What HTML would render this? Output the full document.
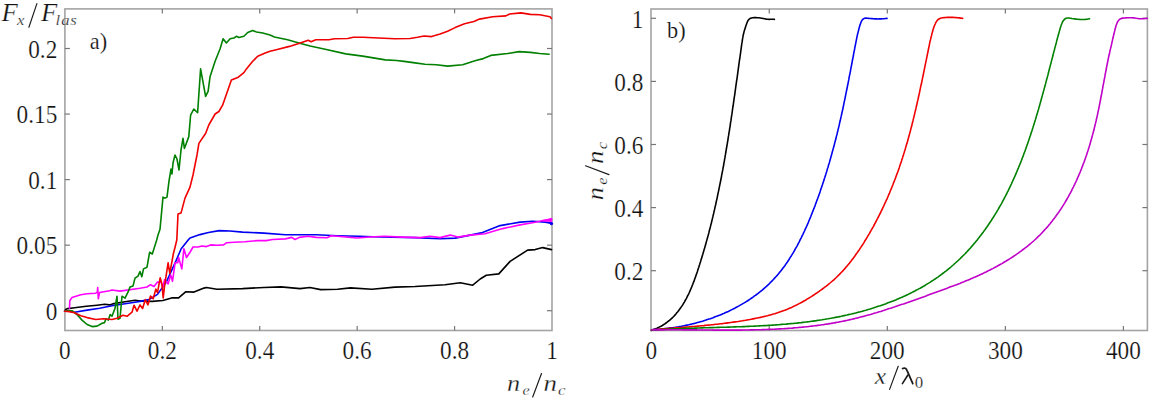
<!DOCTYPE html>
<html><head><meta charset="utf-8"><style>
html,body{margin:0;padding:0;background:#fff;width:1152px;height:399px;overflow:hidden}
svg{display:block}
</style></head><body>
<svg width="1152" height="399" viewBox="0 0 1152 399">
<rect width="1152" height="399" fill="#fff"/>
<rect x="64.9" y="8.9" width="487.1" height="321.6" fill="none" stroke="#a4a4a4" stroke-width="1.6"/><line x1="162.32000000000002" y1="330.5" x2="162.32000000000002" y2="326.0" stroke="#777" stroke-width="1.2"/><line x1="162.32000000000002" y1="8.9" x2="162.32000000000002" y2="13.4" stroke="#777" stroke-width="1.2"/><line x1="259.74" y1="330.5" x2="259.74" y2="326.0" stroke="#777" stroke-width="1.2"/><line x1="259.74" y1="8.9" x2="259.74" y2="13.4" stroke="#777" stroke-width="1.2"/><line x1="357.15999999999997" y1="330.5" x2="357.15999999999997" y2="326.0" stroke="#777" stroke-width="1.2"/><line x1="357.15999999999997" y1="8.9" x2="357.15999999999997" y2="13.4" stroke="#777" stroke-width="1.2"/><line x1="454.58000000000004" y1="330.5" x2="454.58000000000004" y2="326.0" stroke="#777" stroke-width="1.2"/><line x1="454.58000000000004" y1="8.9" x2="454.58000000000004" y2="13.4" stroke="#777" stroke-width="1.2"/><line x1="64.9" y1="310.7" x2="69.9" y2="310.7" stroke="#777" stroke-width="1.2"/><line x1="552.0" y1="310.7" x2="547.0" y2="310.7" stroke="#777" stroke-width="1.2"/><line x1="64.9" y1="245.14999999999998" x2="69.9" y2="245.14999999999998" stroke="#777" stroke-width="1.2"/><line x1="552.0" y1="245.14999999999998" x2="547.0" y2="245.14999999999998" stroke="#777" stroke-width="1.2"/><line x1="64.9" y1="179.6" x2="69.9" y2="179.6" stroke="#777" stroke-width="1.2"/><line x1="552.0" y1="179.6" x2="547.0" y2="179.6" stroke="#777" stroke-width="1.2"/><line x1="64.9" y1="114.04999999999998" x2="69.9" y2="114.04999999999998" stroke="#777" stroke-width="1.2"/><line x1="552.0" y1="114.04999999999998" x2="547.0" y2="114.04999999999998" stroke="#777" stroke-width="1.2"/><line x1="64.9" y1="48.5" x2="69.9" y2="48.5" stroke="#777" stroke-width="1.2"/><line x1="552.0" y1="48.5" x2="547.0" y2="48.5" stroke="#777" stroke-width="1.2"/>
<rect x="651.0" y="9.0" width="496.4000000000001" height="321.5" fill="none" stroke="#a4a4a4" stroke-width="1.6"/><line x1="769.25" y1="330.5" x2="769.25" y2="326.0" stroke="#777" stroke-width="1.2"/><line x1="769.25" y1="9.0" x2="769.25" y2="13.5" stroke="#777" stroke-width="1.2"/><line x1="887.3000000000001" y1="330.5" x2="887.3000000000001" y2="326.0" stroke="#777" stroke-width="1.2"/><line x1="887.3000000000001" y1="9.0" x2="887.3000000000001" y2="13.5" stroke="#777" stroke-width="1.2"/><line x1="1005.3500000000001" y1="330.5" x2="1005.3500000000001" y2="326.0" stroke="#777" stroke-width="1.2"/><line x1="1005.3500000000001" y1="9.0" x2="1005.3500000000001" y2="13.5" stroke="#777" stroke-width="1.2"/><line x1="1123.4" y1="330.5" x2="1123.4" y2="326.0" stroke="#777" stroke-width="1.2"/><line x1="1123.4" y1="9.0" x2="1123.4" y2="13.5" stroke="#777" stroke-width="1.2"/><line x1="651.0" y1="270.7" x2="656.0" y2="270.7" stroke="#777" stroke-width="1.2"/><line x1="1147.4" y1="270.7" x2="1142.4" y2="270.7" stroke="#777" stroke-width="1.2"/><line x1="651.0" y1="207.60000000000002" x2="656.0" y2="207.60000000000002" stroke="#777" stroke-width="1.2"/><line x1="1147.4" y1="207.60000000000002" x2="1142.4" y2="207.60000000000002" stroke="#777" stroke-width="1.2"/><line x1="651.0" y1="144.50000000000003" x2="656.0" y2="144.50000000000003" stroke="#777" stroke-width="1.2"/><line x1="1147.4" y1="144.50000000000003" x2="1142.4" y2="144.50000000000003" stroke="#777" stroke-width="1.2"/><line x1="651.0" y1="81.4" x2="656.0" y2="81.4" stroke="#777" stroke-width="1.2"/><line x1="1147.4" y1="81.4" x2="1142.4" y2="81.4" stroke="#777" stroke-width="1.2"/><line x1="651.0" y1="18.30000000000001" x2="656.0" y2="18.30000000000001" stroke="#777" stroke-width="1.2"/><line x1="1147.4" y1="18.30000000000001" x2="1142.4" y2="18.30000000000001" stroke="#777" stroke-width="1.2"/>
<text transform="translate(57.30,320.00) scale(0.92,1)" font-size="25.3" text-anchor="end" font-family="Liberation Serif" fill="#111" stroke="#fff" stroke-width="0.2">0</text>
<text transform="translate(57.30,254.45) scale(0.92,1)" font-size="25.3" text-anchor="end" font-family="Liberation Serif" fill="#111" stroke="#fff" stroke-width="0.2">0.05</text>
<text transform="translate(57.30,188.90) scale(0.92,1)" font-size="25.3" text-anchor="end" font-family="Liberation Serif" fill="#111" stroke="#fff" stroke-width="0.2">0.1</text>
<text transform="translate(57.30,123.35) scale(0.92,1)" font-size="25.3" text-anchor="end" font-family="Liberation Serif" fill="#111" stroke="#fff" stroke-width="0.2">0.15</text>
<text transform="translate(57.30,57.80) scale(0.92,1)" font-size="25.3" text-anchor="end" font-family="Liberation Serif" fill="#111" stroke="#fff" stroke-width="0.2">0.2</text>
<text transform="translate(64.90,358.60) scale(0.92,1)" font-size="25.3" text-anchor="middle" font-family="Liberation Serif" fill="#111" stroke="#fff" stroke-width="0.2">0</text>
<text transform="translate(162.32,358.60) scale(0.92,1)" font-size="25.3" text-anchor="middle" font-family="Liberation Serif" fill="#111" stroke="#fff" stroke-width="0.2">0.2</text>
<text transform="translate(259.74,358.60) scale(0.92,1)" font-size="25.3" text-anchor="middle" font-family="Liberation Serif" fill="#111" stroke="#fff" stroke-width="0.2">0.4</text>
<text transform="translate(357.16,358.60) scale(0.92,1)" font-size="25.3" text-anchor="middle" font-family="Liberation Serif" fill="#111" stroke="#fff" stroke-width="0.2">0.6</text>
<text transform="translate(454.58,358.60) scale(0.92,1)" font-size="25.3" text-anchor="middle" font-family="Liberation Serif" fill="#111" stroke="#fff" stroke-width="0.2">0.8</text>
<text transform="translate(552.00,358.60) scale(0.92,1)" font-size="25.3" text-anchor="middle" font-family="Liberation Serif" fill="#111" stroke="#fff" stroke-width="0.2">1</text>
<text transform="translate(643.40,279.90) scale(0.92,1)" font-size="25.3" text-anchor="end" font-family="Liberation Serif" fill="#111" stroke="#fff" stroke-width="0.2">0.2</text>
<text transform="translate(643.40,216.80) scale(0.92,1)" font-size="25.3" text-anchor="end" font-family="Liberation Serif" fill="#111" stroke="#fff" stroke-width="0.2">0.4</text>
<text transform="translate(643.40,153.70) scale(0.92,1)" font-size="25.3" text-anchor="end" font-family="Liberation Serif" fill="#111" stroke="#fff" stroke-width="0.2">0.6</text>
<text transform="translate(643.40,90.60) scale(0.92,1)" font-size="25.3" text-anchor="end" font-family="Liberation Serif" fill="#111" stroke="#fff" stroke-width="0.2">0.8</text>
<text transform="translate(643.40,27.50) scale(0.92,1)" font-size="25.3" text-anchor="end" font-family="Liberation Serif" fill="#111" stroke="#fff" stroke-width="0.2">1</text>
<text transform="translate(651.20,358.60) scale(0.92,1)" font-size="25.3" text-anchor="middle" font-family="Liberation Serif" fill="#111" stroke="#fff" stroke-width="0.2">0</text>
<text transform="translate(769.25,358.60) scale(0.92,1)" font-size="25.3" text-anchor="middle" font-family="Liberation Serif" fill="#111" stroke="#fff" stroke-width="0.2">100</text>
<text transform="translate(887.30,358.60) scale(0.92,1)" font-size="25.3" text-anchor="middle" font-family="Liberation Serif" fill="#111" stroke="#fff" stroke-width="0.2">200</text>
<text transform="translate(1005.35,358.60) scale(0.92,1)" font-size="25.3" text-anchor="middle" font-family="Liberation Serif" fill="#111" stroke="#fff" stroke-width="0.2">300</text>
<text transform="translate(1123.40,358.60) scale(0.92,1)" font-size="25.3" text-anchor="middle" font-family="Liberation Serif" fill="#111" stroke="#fff" stroke-width="0.2">400</text>
<text transform="translate(89.80,48.60) scale(0.95,1)" font-size="23.5" text-anchor="start" font-family="Liberation Serif" fill="#111" stroke="#fff" stroke-width="0.2">a)</text>
<text transform="translate(667.00,38.40) scale(0.95,1)" font-size="23.5" text-anchor="start" font-family="Liberation Serif" fill="#111" stroke="#fff" stroke-width="0.2">b)</text>
<text transform="translate(1.60,21.10) scale(1.1,1)" font-size="24.2" font-style="italic" font-family="Liberation Serif" fill="#111" stroke="#fff" stroke-width="0.25">F</text>
<text transform="translate(16.90,25.40) scale(1.15,1)" font-size="14.5" font-style="italic" font-family="Liberation Serif" fill="#111" stroke="#fff" stroke-width="0.25">x</text>
<line x1="28.9" y1="27.2" x2="36.9" y2="3.6" stroke="#1a1a1a" stroke-width="1.15" stroke-linecap="round"/>
<text transform="translate(41.10,21.10) scale(1.1,1)" font-size="24.2" font-style="italic" font-family="Liberation Serif" fill="#111" stroke="#fff" stroke-width="0.25">F</text>
<text transform="translate(55.40,24.70) scale(1.15,1)" font-size="14.5" font-style="italic" font-family="Liberation Serif" fill="#111" stroke="#fff" stroke-width="0.25">l</text>
<text transform="translate(61.30,24.60) scale(1.15,1)" font-size="14.5" font-style="italic" font-family="Liberation Serif" fill="#111" stroke="#fff" stroke-width="0.25">a</text>
<text transform="translate(70.30,24.60) scale(1.15,1)" font-size="14.5" font-style="italic" font-family="Liberation Serif" fill="#111" stroke="#fff" stroke-width="0.25">s</text>
<text transform="translate(507.05,391.30) scale(1.16,1)" font-size="22.6" font-style="italic" font-family="Liberation Serif" fill="#111" stroke="#fff" stroke-width="0.25">n</text><text transform="translate(522.50,395.15) scale(1.05,1)" font-size="15.4" font-style="italic" font-family="Liberation Serif" fill="#111" stroke="#fff" stroke-width="0.25">e</text><line x1="532.7" y1="397.0" x2="541.5" y2="373.5" stroke="#1a1a1a" stroke-width="1.15" stroke-linecap="round"/><text transform="translate(543.40,391.30) scale(1.19,1)" font-size="22.6" font-style="italic" font-family="Liberation Serif" fill="#111" stroke="#fff" stroke-width="0.25">n</text><text transform="translate(558.10,395.15) scale(1.09,1)" font-size="15.4" font-style="italic" font-family="Liberation Serif" fill="#111" stroke="#fff" stroke-width="0.25">c</text>
<g transform="matrix(0,-1,1,0,212,707.3)"><text transform="translate(507.05,391.30) scale(1.16,1)" font-size="22.6" font-style="italic" font-family="Liberation Serif" fill="#111" stroke="#fff" stroke-width="0.25">n</text><text transform="translate(522.50,395.15) scale(1.05,1)" font-size="15.4" font-style="italic" font-family="Liberation Serif" fill="#111" stroke="#fff" stroke-width="0.25">e</text><line x1="532.7" y1="397.0" x2="541.5" y2="373.5" stroke="#1a1a1a" stroke-width="1.15" stroke-linecap="round"/><text transform="translate(543.40,391.30) scale(1.19,1)" font-size="22.6" font-style="italic" font-family="Liberation Serif" fill="#111" stroke="#fff" stroke-width="0.25">n</text><text transform="translate(558.10,395.15) scale(1.09,1)" font-size="15.4" font-style="italic" font-family="Liberation Serif" fill="#111" stroke="#fff" stroke-width="0.25">c</text></g>
<text transform="translate(874.80,384.00) scale(1.06,1)" font-size="24.1" font-style="italic" font-family="Liberation Serif" fill="#111" stroke="#fff" stroke-width="0.25">x</text>
<line x1="889.6" y1="389.4" x2="898.2" y2="366.3" stroke="#1a1a1a" stroke-width="1.15" stroke-linecap="round"/>
<path d="M902.6,368.6 Q905.6,366.9 907.2,370.8 L912.8,383.6" fill="none" stroke="#1a1a1a" stroke-width="1.75" stroke-linecap="round"/>
<path d="M907.9,375.0 L902.4,383.6" fill="none" stroke="#1a1a1a" stroke-width="1.6" stroke-linecap="round"/>
<text transform="translate(914.70,388.06) scale(0.98,1)" font-size="17.2" font-family="Liberation Serif" fill="#111" stroke="#fff" stroke-width="0.25">0</text>
<polyline points="65.5,309.6 67.9,308.6 74.5,307.8 86.3,306.3 97.1,305.2 104.6,304.3 109.6,304.9 112.6,303.9 125.0,301.8 135.0,300.2 143.0,301.2 152.3,301.4 162.8,300.5 171.6,297.9 178.6,297.9 185.6,291.8 194.0,292.1 204.0,288.1 206.4,287.5 217.0,289.2 242.6,288.6 264.0,287.5 281.0,286.9 300.0,288.6 309.9,287.5 320.6,289.6 337.6,289.2 350.4,287.9 371.8,289.2 395.0,287.1 415.0,286.5 445.1,284.7 460.2,282.7 472.7,285.2 480.2,279.0 486.3,275.2 498.8,273.9 510.1,261.4 527.6,250.1 535.2,249.6 542.7,247.6 551.5,249.6" fill="none" stroke="#000000" stroke-width="1.6" stroke-linejoin="round" stroke-linecap="round"/>
<polyline points="64.5,311.3 69.5,311.3 74.5,312.3 87.1,310.1 99.6,308.2 112.0,305.7 115.0,305.2 135.0,302.2 140.0,301.4 148.8,299.6 157.5,294.4 166.3,282.1 175.1,262.8 181.2,248.8 187.4,240.9 190.0,238.0 200.0,234.6 208.5,232.5 219.2,230.6 229.9,231.0 242.6,232.1 264.0,233.1 285.3,234.8 316.3,234.8 337.6,235.7 359.0,236.3 380.3,237.0 415.0,237.6 440.1,238.8 455.2,238.1 470.2,235.1 482.5,232.6 500.1,225.6 520.1,222.1 532.7,221.3 545.2,222.1 550.7,223.1" fill="none" stroke="#0000f0" stroke-width="1.6" stroke-linejoin="round" stroke-linecap="round"/>
<polyline points="69.5,308.2 69.8,300.7 72.0,297.5 80.8,294.8 87.1,293.8 95.8,293.2 97.3,292.0 97.7,287.5 98.3,298.8 99.6,292.5 109.6,290.7 112.0,290.0 120.0,291.1 140.0,288.2 147.0,287.0 150.5,284.7 154.0,286.5 157.5,282.1 161.0,282.1 162.8,287.4 164.6,279.5 168.1,283.9 170.7,275.1 172.5,281.2 175.1,262.8 177.7,262.8 178.6,257.5 181.8,268.9 183.9,248.8 186.5,257.5 190.0,252.3 193.0,247.0 198.0,247.0 202.0,246.0 206.4,246.6 210.7,244.9 217.0,245.3 223.5,244.9 226.7,242.7 234.1,242.3 244.8,241.7 257.6,240.6 266.1,240.6 272.5,239.5 285.3,238.9 291.7,237.4 295.0,239.5 299.3,237.4 307.8,236.3 316.3,237.4 327.0,237.8 331.2,235.7 337.6,236.3 356.8,238.0 369.6,237.0 384.6,236.3 402.5,237.1 420.1,237.6 430.1,236.3 440.1,237.6 450.2,235.1 457.7,237.1 470.2,235.1 485.0,233.8 502.6,228.6 520.1,224.9 535.2,222.2 545.2,220.0 551.5,219.0" fill="none" stroke="#ff00ff" stroke-width="1.6" stroke-linejoin="round" stroke-linecap="round"/>
<polyline points="65.0,311.0 68.3,310.7 72.0,310.7 77.0,314.5 82.0,320.1 87.1,324.5 92.1,326.6 97.1,326.1 102.1,323.2 104.6,322.6 105.9,318.8 108.4,320.1 110.2,314.5 112.0,316.3 115.0,308.2 117.0,296.2 118.0,319.3 120.0,318.3 122.0,296.2 125.0,298.2 128.0,292.2 130.0,287.1 133.0,286.1 135.0,278.1 138.0,276.1 140.0,271.6 141.8,276.8 143.5,268.9 147.0,267.2 149.6,252.3 152.3,254.0 156.7,240.0 158.0,235.0 160.0,229.2 163.0,197.1 165.0,198.1 167.0,197.1 169.0,181.1 170.0,175.0 171.0,169.0 172.0,174.0 173.0,163.0 175.0,155.0 177.0,159.0 179.0,170.0 181.0,150.0 183.0,138.3 184.4,148.5 188.8,136.6 190.6,115.2 193.8,109.0 197.6,112.7 200.6,68.9 205.6,96.4 208.1,91.4 210.1,76.4 215.1,61.3 220.1,48.8 223.1,38.8 226.4,43.0 230.1,38.8 233.9,38.0 236.4,36.3 238.9,37.5 243.9,36.3 247.7,32.5 252.7,30.5 256.5,32.0 262.7,33.0 270.0,35.0 274.4,37.0 287.6,39.8 300.7,43.5 310.1,46.0 325.2,49.2 345.8,53.9 362.7,56.1 385.3,59.9 396.6,60.5 404.1,61.4 415.0,62.9 425.0,64.2 436.3,64.8 447.6,66.1 462.6,64.8 475.8,60.5 483.3,58.6 490.8,55.4 507.7,53.5 519.0,51.6 530.3,52.4 539.7,53.5 549.1,54.2" fill="none" stroke="#008000" stroke-width="1.6" stroke-linejoin="round" stroke-linecap="round"/>
<polyline points="64.5,311.3 69.5,311.6 74.5,312.8 80.8,315.7 87.1,317.6 95.8,319.5 103.4,318.8 112.0,319.5 117.0,318.3 123.0,315.3 127.0,316.3 132.0,312.2 134.0,305.2 137.0,311.2 140.0,304.9 142.6,308.4 145.3,299.6 147.9,304.9 150.5,296.1 153.2,298.8 155.8,289.1 157.5,292.6 160.2,277.7 161.9,283.9 163.2,297.9 164.6,285.6 168.1,262.8 169.8,273.3 173.3,254.0 175.1,247.0 176.8,240.0 178.0,214.1 181.0,213.1 185.0,198.1 190.0,187.1 193.0,175.0 197.0,155.0 198.9,143.4 205.7,133.3 208.8,125.0 215.1,114.0 218.9,111.5 222.6,105.2 231.4,80.1 237.7,77.6 243.9,72.6 246.4,68.9 252.7,61.3 257.7,56.3 265.2,53.1 270.0,51.3 276.3,49.7 289.4,46.4 298.8,43.5 308.2,40.2 311.1,41.7 315.8,39.8 328.9,39.8 334.5,38.8 347.7,38.5 353.3,37.3 362.7,37.3 394.7,38.8 410.0,38.5 417.5,37.3 424.1,36.0 431.6,36.6 440.1,34.1 447.6,31.3 455.1,27.6 464.5,23.8 473.9,21.5 479.5,19.1 492.7,16.8 505.9,15.9 509.6,14.0 520.9,12.9 530.3,14.4 539.7,14.8 550.0,16.7 551.4,18.5" fill="none" stroke="#f00000" stroke-width="1.6" stroke-linejoin="round" stroke-linecap="round"/>
<circle cx="551.4" cy="223.6" r="1.7" fill="#0000f0"/>
<path d="M543,221.2 L551.8,218.2 L551.8,221.6 Z" fill="#ff00ff" stroke="#ff00ff" stroke-width="0.8" stroke-linejoin="round"/>
<polyline points="651.4,330.4 652.8,329.9 654.2,329.3 655.6,328.8 657.0,328.2 658.3,327.6 659.6,326.9 661.0,326.2 662.3,325.5 663.5,324.7 664.8,323.9 666.0,323.0 667.2,322.2 668.4,321.2 669.5,320.3 670.6,319.3 671.7,318.3 672.8,317.3 673.9,316.2 674.9,315.1 675.9,314.0 676.8,312.8 677.8,311.7 678.7,310.5 679.6,309.3 680.5,308.1 681.3,306.9 682.2,305.6 683.0,304.4 683.7,303.1 684.5,301.8 685.2,300.5 686.0,299.2 686.7,297.9 687.3,296.5 688.0,295.2 688.7,293.8 689.3,292.5 689.9,291.1 690.5,289.7 691.1,288.4 691.7,287.0 692.2,285.6 692.8,284.2 693.3,282.8 693.9,281.4 694.4,280.0 694.9,278.6 695.4,277.2 695.9,275.8 696.4,274.3 696.9,272.9 697.4,271.5 697.8,270.1 698.3,268.6 698.8,267.2 699.2,265.8 699.7,264.4 700.1,262.9 700.6,261.5 701.0,260.1 701.5,258.6 701.9,257.2 702.3,255.8 702.8,254.3 703.2,252.9 703.6,251.5 704.0,250.0 704.5,248.6 704.9,247.1 705.3,245.7 705.7,244.2 706.1,242.8 706.5,241.4 706.9,239.9 707.3,238.5 707.7,237.0 708.1,235.6 708.5,234.1 708.9,232.7 709.2,231.2 709.6,229.8 710.0,228.3 710.4,226.9 710.7,225.4 711.1,224.0 711.5,222.5 711.8,221.0 712.2,219.6 712.5,218.1 712.9,216.7 713.2,215.2 713.6,213.7 713.9,212.3 714.2,210.8 714.6,209.4 714.9,207.9 715.2,206.4 715.6,205.0 715.9,203.5 716.2,202.0 716.5,200.6 716.9,199.1 717.2,197.7 717.5,196.2 717.8,194.7 718.1,193.2 718.4,191.8 718.7,190.3 719.0,188.8 719.3,187.4 719.6,185.9 719.9,184.4 720.2,183.0 720.5,181.5 720.8,180.0 721.1,178.5 721.4,177.1 721.6,175.6 721.9,174.1 722.2,172.7 722.5,171.2 722.8,169.7 723.0,168.2 723.3,166.8 723.6,165.3 723.8,163.8 724.1,162.3 724.4,160.8 724.6,159.4 724.9,157.9 725.1,156.4 725.4,154.9 725.6,153.5 725.9,152.0 726.1,150.5 726.4,149.0 726.6,147.5 726.9,146.1 727.1,144.6 727.4,143.1 727.6,141.6 727.9,140.1 728.1,138.7 728.3,137.2 728.6,135.7 728.8,134.2 729.0,132.7 729.3,131.3 729.5,129.8 729.7,128.3 730.0,126.8 730.2,125.3 730.4,123.8 730.6,122.4 730.9,120.9 731.1,119.4 731.3,117.9 731.5,116.4 731.8,114.9 732.0,113.5 732.2,112.0 732.4,110.5 732.6,109.0 732.8,107.5 733.1,106.0 733.3,104.6 733.5,103.1 733.7,101.6 733.9,100.1 734.1,98.6 734.3,97.1 734.6,95.6 734.8,94.2 735.0,92.7 735.2,91.2 735.4,89.7 735.6,88.2 735.8,86.7 736.0,85.2 736.2,83.8 736.4,82.3 736.6,80.8 736.9,79.3 737.1,77.8 737.3,76.3 737.5,74.8 737.7,73.4 737.9,71.9 738.1,70.4 738.3,68.9 738.5,67.4 738.7,65.9 738.9,64.4 739.1,63.0 739.3,61.5 739.5,60.0 739.8,58.5 740.0,57.0 740.2,55.5 740.4,54.0 740.6,52.6 740.8,51.1 741.0,49.6 741.2,48.1 741.4,46.6 741.6,45.1 741.8,43.7 742.1,42.2 742.3,40.7 742.5,39.2 742.8,37.7 743.0,36.3 743.3,34.8 743.7,33.3 744.0,31.9 744.4,30.4 744.9,29.0 745.4,27.6 745.8,26.1 746.3,24.7 746.8,23.3 747.3,21.9 748.0,20.6 748.9,19.4 750.0,18.6 751.4,18.0 752.8,17.7 754.3,17.6 755.8,17.6 757.3,17.7 758.8,17.8 760.3,18.0 761.8,18.2 763.2,18.5 764.7,18.8 766.2,19.1 767.6,19.3 769.1,19.4 770.6,19.3 772.1,19.2 773.5,19.3 774.4,19.4" fill="none" stroke="#000000" stroke-width="1.6" stroke-linejoin="round" stroke-linecap="round"/>
<polyline points="651.6,329.7 653.0,329.6 654.5,329.5 656.0,329.4 657.5,329.3 659.0,329.2 660.5,329.1 662.0,328.9 663.5,328.8 665.0,328.6 666.5,328.5 668.0,328.3 669.5,328.1 671.0,327.9 672.4,327.7 673.9,327.5 675.4,327.3 676.9,327.0 678.4,326.8 679.8,326.5 681.3,326.3 682.8,326.0 684.3,325.7 685.7,325.4 687.2,325.1 688.7,324.8 690.1,324.4 691.6,324.1 693.0,323.7 694.5,323.4 696.0,323.0 697.4,322.6 698.8,322.2 700.3,321.8 701.7,321.4 703.2,321.0 704.6,320.5 706.0,320.1 707.5,319.6 708.9,319.1 710.3,318.7 711.7,318.2 713.1,317.7 714.5,317.1 715.9,316.6 717.3,316.1 718.7,315.5 720.1,315.0 721.5,314.4 722.9,313.8 724.3,313.2 725.6,312.6 727.0,312.0 728.4,311.4 729.7,310.7 731.1,310.1 732.4,309.4 733.7,308.7 735.1,308.0 736.4,307.3 737.7,306.6 739.0,305.9 740.3,305.1 741.6,304.4 742.9,303.6 744.2,302.9 745.5,302.1 746.8,301.3 748.0,300.5 749.3,299.7 750.5,298.8 751.7,298.0 753.0,297.1 754.2,296.2 755.4,295.4 756.6,294.5 757.8,293.6 759.0,292.6 760.2,291.7 761.3,290.8 762.5,289.8 763.6,288.8 764.7,287.8 765.9,286.8 767.0,285.8 768.1,284.8 769.2,283.8 770.2,282.7 771.3,281.7 772.3,280.6 773.4,279.5 774.4,278.4 775.4,277.3 776.4,276.2 777.4,275.1 778.4,273.9 779.3,272.8 780.3,271.6 781.2,270.5 782.1,269.3 783.0,268.1 783.9,266.9 784.8,265.7 785.7,264.4 786.5,263.2 787.4,262.0 788.2,260.7 789.0,259.5 789.8,258.2 790.6,256.9 791.4,255.7 792.2,254.4 793.0,253.1 793.7,251.8 794.5,250.5 795.2,249.2 795.9,247.9 796.7,246.6 797.4,245.3 798.1,243.9 798.8,242.6 799.5,241.3 800.1,239.9 800.8,238.6 801.5,237.3 802.1,235.9 802.8,234.6 803.4,233.2 804.1,231.8 804.7,230.5 805.3,229.1 805.9,227.8 806.6,226.4 807.2,225.0 807.8,223.6 808.4,222.3 808.9,220.9 809.5,219.5 810.1,218.1 810.7,216.7 811.2,215.3 811.8,213.9 812.3,212.5 812.9,211.2 813.4,209.8 814.0,208.4 814.5,207.0 815.1,205.6 815.6,204.1 816.1,202.7 816.6,201.3 817.1,199.9 817.7,198.5 818.2,197.1 818.7,195.7 819.2,194.3 819.7,192.9 820.2,191.4 820.6,190.0 821.1,188.6 821.6,187.2 822.1,185.8 822.6,184.3 823.0,182.9 823.5,181.5 824.0,180.1 824.4,178.6 824.9,177.2 825.3,175.8 825.8,174.4 826.2,172.9 826.7,171.5 827.1,170.1 827.5,168.6 828.0,167.2 828.4,165.7 828.8,164.3 829.3,162.9 829.7,161.4 830.1,160.0 830.5,158.5 830.9,157.1 831.3,155.7 831.7,154.2 832.1,152.8 832.5,151.3 832.9,149.9 833.3,148.4 833.7,147.0 834.1,145.5 834.5,144.1 834.8,142.6 835.2,141.2 835.6,139.7 836.0,138.3 836.3,136.8 836.7,135.4 837.1,133.9 837.4,132.4 837.8,131.0 838.1,129.5 838.5,128.1 838.8,126.6 839.2,125.2 839.5,123.7 839.8,122.2 840.2,120.8 840.5,119.3 840.8,117.8 841.2,116.4 841.5,114.9 841.8,113.5 842.1,112.0 842.5,110.5 842.8,109.1 843.1,107.6 843.4,106.1 843.7,104.7 844.0,103.2 844.3,101.7 844.6,100.3 844.9,98.8 845.2,97.3 845.5,95.8 845.8,94.4 846.1,92.9 846.4,91.4 846.7,90.0 847.0,88.5 847.3,87.0 847.6,85.5 847.9,84.1 848.2,82.6 848.5,81.1 848.8,79.7 849.0,78.2 849.3,76.7 849.6,75.2 849.9,73.8 850.2,72.3 850.5,70.8 850.7,69.3 851.0,67.9 851.3,66.4 851.6,64.9 851.9,63.5 852.1,62.0 852.4,60.5 852.7,59.0 853.0,57.6 853.3,56.1 853.5,54.6 853.8,53.1 854.1,51.7 854.4,50.2 854.7,48.7 854.9,47.2 855.2,45.8 855.5,44.3 855.8,42.8 856.1,41.4 856.4,39.9 856.7,38.4 857.0,36.9 857.3,35.5 857.6,34.0 858.0,32.6 858.4,31.1 858.7,29.7 859.1,28.2 859.5,26.8 859.9,25.3 860.4,23.9 860.9,22.5 861.5,21.1 862.3,19.9 863.4,18.9 864.6,18.3 866.1,18.1 867.5,18.2 869.0,18.4 870.5,18.5 872.0,18.6 873.5,18.7 875.0,18.9 876.5,18.9 878.0,19.0 879.5,18.9 881.0,18.9 882.5,18.8 884.0,18.7 885.5,18.5 887.0,18.4 887.0,18.4" fill="none" stroke="#0000f0" stroke-width="1.6" stroke-linejoin="round" stroke-linecap="round"/>
<polyline points="651.5,329.9 653.0,329.7 654.5,329.6 656.0,329.5 657.5,329.4 659.0,329.2 660.5,329.1 662.0,329.0 663.5,328.9 665.0,328.8 666.5,328.6 668.0,328.5 669.5,328.4 671.0,328.3 672.5,328.2 674.0,328.1 675.4,327.9 676.9,327.8 678.4,327.7 679.9,327.6 681.4,327.5 682.9,327.4 684.4,327.2 685.9,327.1 687.4,327.0 688.9,326.9 690.4,326.7 691.9,326.6 693.4,326.5 694.9,326.4 696.4,326.2 697.9,326.1 699.4,326.0 700.9,325.8 702.4,325.7 703.8,325.6 705.3,325.4 706.8,325.3 708.3,325.1 709.8,325.0 711.3,324.8 712.8,324.7 714.3,324.5 715.8,324.3 717.3,324.2 718.8,324.0 720.3,323.8 721.7,323.7 723.2,323.5 724.7,323.3 726.2,323.1 727.7,322.9 729.2,322.7 730.7,322.5 732.2,322.3 733.6,322.1 735.1,321.9 736.6,321.7 738.1,321.5 739.6,321.2 741.1,321.0 742.5,320.8 744.0,320.5 745.5,320.3 747.0,320.0 748.5,319.7 749.9,319.5 751.4,319.2 752.9,318.9 754.3,318.6 755.8,318.3 757.3,318.0 758.8,317.7 760.2,317.4 761.7,317.1 763.1,316.7 764.6,316.4 766.1,316.0 767.5,315.7 769.0,315.3 770.4,314.9 771.9,314.5 773.3,314.1 774.7,313.7 776.2,313.2 777.6,312.8 779.0,312.3 780.4,311.8 781.8,311.3 783.3,310.8 784.7,310.3 786.1,309.7 787.4,309.2 788.8,308.6 790.2,308.0 791.6,307.4 792.9,306.7 794.3,306.1 795.6,305.4 797.0,304.8 798.3,304.1 799.6,303.4 800.9,302.7 802.3,302.0 803.6,301.2 804.9,300.5 806.2,299.7 807.4,298.9 808.7,298.2 810.0,297.4 811.3,296.6 812.5,295.8 813.8,295.0 815.0,294.1 816.3,293.3 817.5,292.5 818.8,291.6 820.0,290.7 821.2,289.9 822.4,289.0 823.6,288.1 824.8,287.2 826.0,286.3 827.2,285.4 828.4,284.4 829.5,283.5 830.7,282.5 831.8,281.5 832.9,280.6 834.1,279.6 835.2,278.5 836.3,277.5 837.3,276.5 838.4,275.4 839.5,274.4 840.5,273.3 841.5,272.2 842.6,271.1 843.6,270.0 844.6,268.9 845.6,267.8 846.5,266.6 847.5,265.5 848.5,264.3 849.4,263.2 850.3,262.0 851.3,260.8 852.2,259.6 853.1,258.4 854.0,257.2 854.9,256.0 855.7,254.8 856.6,253.6 857.5,252.3 858.3,251.1 859.2,249.9 860.0,248.6 860.8,247.4 861.6,246.1 862.5,244.9 863.3,243.6 864.1,242.3 864.8,241.0 865.6,239.8 866.4,238.5 867.2,237.2 867.9,235.9 868.7,234.6 869.5,233.3 870.2,232.0 871.0,230.7 871.7,229.4 872.4,228.1 873.2,226.8 873.9,225.5 874.6,224.2 875.3,222.8 876.0,221.5 876.7,220.2 877.4,218.9 878.1,217.5 878.8,216.2 879.4,214.8 880.1,213.5 880.8,212.2 881.4,210.8 882.1,209.5 882.7,208.1 883.4,206.7 884.0,205.4 884.6,204.0 885.2,202.7 885.9,201.3 886.5,199.9 887.1,198.6 887.7,197.2 888.3,195.8 888.9,194.4 889.5,193.1 890.0,191.7 890.6,190.3 891.2,188.9 891.8,187.5 892.3,186.1 892.9,184.7 893.4,183.3 894.0,181.9 894.5,180.5 895.1,179.1 895.6,177.7 896.1,176.3 896.6,174.9 897.1,173.5 897.7,172.1 898.2,170.7 898.7,169.3 899.2,167.9 899.6,166.4 900.1,165.0 900.6,163.6 901.1,162.2 901.6,160.8 902.0,159.3 902.5,157.9 902.9,156.5 903.4,155.0 903.8,153.6 904.3,152.2 904.7,150.7 905.2,149.3 905.6,147.9 906.0,146.4 906.4,145.0 906.9,143.6 907.3,142.1 907.7,140.7 908.1,139.2 908.5,137.8 908.9,136.3 909.3,134.9 909.7,133.4 910.1,132.0 910.5,130.5 910.8,129.1 911.2,127.6 911.6,126.2 912.0,124.7 912.3,123.3 912.7,121.8 913.1,120.4 913.4,118.9 913.8,117.5 914.1,116.0 914.5,114.5 914.8,113.1 915.2,111.6 915.5,110.2 915.9,108.7 916.2,107.2 916.5,105.8 916.9,104.3 917.2,102.9 917.5,101.4 917.9,99.9 918.2,98.5 918.5,97.0 918.8,95.5 919.2,94.1 919.5,92.6 919.8,91.1 920.1,89.7 920.4,88.2 920.7,86.7 921.0,85.3 921.4,83.8 921.7,82.3 922.0,80.9 922.3,79.4 922.6,77.9 922.9,76.5 923.2,75.0 923.5,73.5 923.8,72.1 924.1,70.6 924.4,69.1 924.7,67.6 925.0,66.2 925.3,64.7 925.6,63.2 925.9,61.8 926.2,60.3 926.5,58.8 926.8,57.4 927.1,55.9 927.4,54.4 927.7,53.0 928.0,51.5 928.3,50.0 928.6,48.5 928.9,47.1 929.2,45.6 929.5,44.1 929.8,42.7 930.1,41.2 930.5,39.7 930.8,38.3 931.2,36.8 931.6,35.4 931.9,33.9 932.3,32.5 932.7,31.0 933.1,29.6 933.6,28.1 934.0,26.7 934.6,25.3 935.2,24.0 935.8,22.6 936.6,21.3 937.5,20.2 938.6,19.2 939.9,18.5 941.3,18.0 942.8,17.8 944.3,17.6 945.8,17.5 947.2,17.4 948.7,17.4 950.2,17.4 951.7,17.4 953.2,17.4 954.7,17.5 956.2,17.6 957.7,17.7 959.2,17.9 960.7,18.1 962.2,18.3 962.7,18.4" fill="none" stroke="#f00000" stroke-width="1.6" stroke-linejoin="round" stroke-linecap="round"/>
<polyline points="651.5,330.2 653.0,330.1 654.5,330.0 656.0,329.9 657.5,329.8 659.0,329.7 660.5,329.6 662.0,329.5 663.5,329.4 665.0,329.4 666.5,329.3 668.0,329.2 669.5,329.1 671.0,329.0 672.5,329.0 674.0,328.9 675.5,328.8 677.0,328.8 678.5,328.7 680.0,328.6 681.5,328.6 682.9,328.5 684.4,328.5 685.9,328.4 687.4,328.4 688.9,328.3 690.4,328.3 691.9,328.2 693.4,328.2 694.9,328.1 696.4,328.1 697.9,328.0 699.4,328.0 700.9,327.9 702.4,327.9 703.9,327.8 705.4,327.8 706.9,327.7 708.4,327.7 709.9,327.6 711.4,327.6 712.9,327.6 714.4,327.5 715.9,327.5 717.4,327.4 718.9,327.4 720.4,327.3 721.9,327.3 723.4,327.3 724.9,327.2 726.4,327.2 727.9,327.1 729.4,327.1 730.9,327.0 732.4,327.0 733.9,326.9 735.4,326.9 736.9,326.8 738.4,326.8 739.9,326.7 741.4,326.7 742.9,326.6 744.4,326.6 745.9,326.5 747.4,326.4 748.9,326.4 750.4,326.3 751.9,326.2 753.4,326.2 754.9,326.1 756.4,326.0 757.9,326.0 759.4,325.9 760.9,325.8 762.4,325.7 763.9,325.6 765.4,325.6 766.9,325.5 768.4,325.4 769.9,325.3 771.4,325.2 772.9,325.1 774.4,325.0 775.9,324.9 777.4,324.8 778.9,324.7 780.4,324.5 781.9,324.4 783.3,324.3 784.8,324.2 786.3,324.1 787.8,323.9 789.3,323.8 790.8,323.6 792.3,323.5 793.8,323.4 795.3,323.2 796.8,323.1 798.3,322.9 799.8,322.7 801.3,322.6 802.8,322.4 804.2,322.2 805.7,322.0 807.2,321.9 808.7,321.7 810.2,321.5 811.7,321.3 813.2,321.1 814.7,320.9 816.1,320.7 817.6,320.4 819.1,320.2 820.6,320.0 822.1,319.8 823.6,319.5 825.0,319.3 826.5,319.0 828.0,318.8 829.5,318.5 830.9,318.3 832.4,318.0 833.9,317.7 835.4,317.4 836.8,317.1 838.3,316.9 839.8,316.6 841.2,316.3 842.7,315.9 844.2,315.6 845.6,315.3 847.1,315.0 848.6,314.6 850.0,314.3 851.5,314.0 853.0,313.6 854.4,313.3 855.9,312.9 857.3,312.5 858.8,312.1 860.2,311.8 861.7,311.4 863.1,311.0 864.6,310.6 866.0,310.2 867.4,309.7 868.9,309.3 870.3,308.9 871.7,308.4 873.2,308.0 874.6,307.5 876.0,307.1 877.5,306.6 878.9,306.1 880.3,305.7 881.7,305.2 883.1,304.7 884.6,304.2 886.0,303.7 887.4,303.1 888.8,302.6 890.2,302.1 891.6,301.5 893.0,301.0 894.4,300.4 895.7,299.9 897.1,299.3 898.5,298.7 899.9,298.1 901.3,297.5 902.6,296.9 904.0,296.3 905.4,295.7 906.7,295.0 908.1,294.4 909.4,293.7 910.8,293.1 912.1,292.4 913.4,291.7 914.8,291.0 916.1,290.3 917.4,289.6 918.7,288.9 920.1,288.2 921.4,287.5 922.7,286.7 924.0,286.0 925.3,285.2 926.5,284.4 927.8,283.6 929.1,282.9 930.4,282.1 931.6,281.2 932.9,280.4 934.1,279.6 935.4,278.8 936.6,277.9 937.9,277.1 939.1,276.2 940.3,275.3 941.5,274.4 942.7,273.5 943.9,272.6 945.1,271.7 946.3,270.8 947.4,269.9 948.6,268.9 949.8,268.0 950.9,267.0 952.0,266.0 953.2,265.0 954.3,264.0 955.4,263.0 956.5,262.0 957.6,261.0 958.7,260.0 959.8,259.0 960.9,257.9 961.9,256.9 963.0,255.8 964.1,254.7 965.1,253.7 966.1,252.6 967.2,251.5 968.2,250.4 969.2,249.3 970.2,248.2 971.2,247.0 972.2,245.9 973.2,244.8 974.1,243.6 975.1,242.5 976.1,241.3 977.0,240.2 977.9,239.0 978.9,237.8 979.8,236.6 980.7,235.5 981.6,234.3 982.5,233.1 983.4,231.9 984.3,230.6 985.2,229.4 986.0,228.2 986.9,227.0 987.8,225.7 988.6,224.5 989.4,223.3 990.3,222.0 991.1,220.8 991.9,219.5 992.7,218.2 993.5,217.0 994.3,215.7 995.1,214.4 995.9,213.1 996.7,211.9 997.4,210.6 998.2,209.3 998.9,208.0 999.7,206.7 1000.4,205.4 1001.2,204.1 1001.9,202.8 1002.6,201.4 1003.3,200.1 1004.0,198.8 1004.7,197.5 1005.4,196.1 1006.1,194.8 1006.8,193.5 1007.4,192.1 1008.1,190.8 1008.8,189.4 1009.4,188.1 1010.1,186.7 1010.7,185.4 1011.4,184.0 1012.0,182.7 1012.6,181.3 1013.2,179.9 1013.8,178.6 1014.5,177.2 1015.1,175.8 1015.7,174.4 1016.2,173.1 1016.8,171.7 1017.4,170.3 1018.0,168.9 1018.6,167.5 1019.1,166.1 1019.7,164.8 1020.3,163.4 1020.8,162.0 1021.4,160.6 1021.9,159.2 1022.4,157.8 1023.0,156.4 1023.5,155.0 1024.0,153.6 1024.5,152.2 1025.1,150.7 1025.6,149.3 1026.1,147.9 1026.6,146.5 1027.1,145.1 1027.6,143.7 1028.1,142.3 1028.6,140.8 1029.0,139.4 1029.5,138.0 1030.0,136.6 1030.5,135.2 1030.9,133.7 1031.4,132.3 1031.9,130.9 1032.3,129.5 1032.8,128.0 1033.2,126.6 1033.7,125.2 1034.1,123.7 1034.6,122.3 1035.0,120.9 1035.5,119.4 1035.9,118.0 1036.3,116.6 1036.8,115.1 1037.2,113.7 1037.6,112.3 1038.0,110.8 1038.5,109.4 1038.9,107.9 1039.3,106.5 1039.7,105.0 1040.1,103.6 1040.5,102.2 1040.9,100.7 1041.3,99.3 1041.7,97.8 1042.1,96.4 1042.5,94.9 1042.9,93.5 1043.3,92.0 1043.7,90.6 1044.1,89.1 1044.5,87.7 1044.9,86.3 1045.3,84.8 1045.7,83.4 1046.0,81.9 1046.4,80.5 1046.8,79.0 1047.2,77.6 1047.6,76.1 1048.0,74.7 1048.3,73.2 1048.7,71.7 1049.1,70.3 1049.5,68.8 1049.8,67.4 1050.2,65.9 1050.6,64.5 1051.0,63.0 1051.3,61.6 1051.7,60.1 1052.1,58.7 1052.5,57.2 1052.9,55.8 1053.2,54.3 1053.6,52.9 1054.0,51.4 1054.4,50.0 1054.7,48.5 1055.1,47.1 1055.5,45.6 1055.9,44.2 1056.3,42.7 1056.6,41.3 1057.0,39.8 1057.4,38.4 1057.8,36.9 1058.2,35.5 1058.6,34.0 1059.0,32.6 1059.4,31.1 1059.8,29.7 1060.2,28.3 1060.7,26.8 1061.1,25.4 1061.7,24.0 1062.2,22.6 1062.9,21.3 1063.8,20.1 1064.8,19.0 1066.0,18.3 1067.4,18.0 1068.9,18.0 1070.4,18.2 1071.9,18.5 1073.3,18.7 1074.8,18.9 1076.3,19.1 1077.8,19.2 1079.3,19.4 1080.8,19.5 1082.3,19.5 1083.8,19.5 1085.3,19.4 1086.8,19.2 1088.2,19.0 1089.6,18.8 1089.6,18.8" fill="none" stroke="#008000" stroke-width="1.6" stroke-linejoin="round" stroke-linecap="round"/>
<polyline points="651.5,330.0 653.0,330.0 654.5,329.9 656.0,329.9 657.5,329.9 659.0,329.9 660.5,329.9 662.0,329.9 663.5,329.9 665.0,329.8 666.5,329.8 668.0,329.8 669.5,329.8 671.0,329.8 672.5,329.8 674.0,329.8 675.5,329.8 677.0,329.8 678.5,329.8 680.0,329.8 681.5,329.8 683.0,329.9 684.5,329.9 686.0,329.9 687.5,329.9 689.0,329.9 690.5,329.9 692.0,329.9 693.5,329.9 695.0,329.9 696.5,329.9 698.0,330.0 699.5,330.0 701.0,330.0 702.5,330.0 704.0,330.0 705.5,330.0 707.0,330.0 708.5,330.0 710.0,330.0 711.5,330.0 713.0,330.1 714.5,330.1 716.0,330.1 717.5,330.1 719.0,330.1 720.5,330.1 722.0,330.1 723.5,330.1 725.0,330.1 726.5,330.1 728.0,330.1 729.5,330.1 731.0,330.1 732.5,330.1 734.0,330.1 735.5,330.1 737.0,330.1 738.5,330.1 740.0,330.1 741.5,330.1 743.0,330.0 744.5,330.0 746.0,330.0 747.5,330.0 749.0,330.0 750.5,329.9 752.0,329.9 753.5,329.9 755.0,329.8 756.5,329.8 758.0,329.8 759.5,329.7 761.0,329.7 762.5,329.6 764.0,329.6 765.5,329.5 767.0,329.5 768.5,329.4 770.0,329.4 771.5,329.3 773.0,329.2 774.5,329.2 776.0,329.1 777.5,329.0 779.0,328.9 780.5,328.9 782.0,328.8 783.5,328.7 785.0,328.6 786.5,328.5 788.0,328.4 789.5,328.3 791.0,328.2 792.4,328.1 793.9,327.9 795.4,327.8 796.9,327.7 798.4,327.5 799.9,327.4 801.4,327.3 802.9,327.1 804.4,327.0 805.9,326.8 807.4,326.7 808.9,326.5 810.4,326.3 811.9,326.1 813.3,326.0 814.8,325.8 816.3,325.6 817.8,325.4 819.3,325.2 820.8,325.0 822.3,324.8 823.7,324.6 825.2,324.3 826.7,324.1 828.2,323.9 829.7,323.6 831.2,323.4 832.6,323.1 834.1,322.9 835.6,322.6 837.1,322.3 838.5,322.1 840.0,321.8 841.5,321.5 842.9,321.2 844.4,320.9 845.9,320.6 847.3,320.3 848.8,319.9 850.3,319.6 851.7,319.3 853.2,318.9 854.7,318.6 856.1,318.2 857.6,317.9 859.0,317.5 860.5,317.1 861.9,316.7 863.4,316.4 864.8,316.0 866.3,315.6 867.7,315.2 869.2,314.8 870.6,314.4 872.0,313.9 873.5,313.5 874.9,313.1 876.4,312.7 877.8,312.2 879.2,311.8 880.7,311.4 882.1,310.9 883.5,310.5 885.0,310.0 886.4,309.6 887.8,309.1 889.2,308.6 890.7,308.2 892.1,307.7 893.5,307.2 894.9,306.8 896.4,306.3 897.8,305.8 899.2,305.3 900.6,304.8 902.0,304.3 903.5,303.9 904.9,303.4 906.3,302.9 907.7,302.4 909.1,301.9 910.5,301.4 912.0,300.9 913.4,300.4 914.8,299.9 916.2,299.4 917.6,298.9 919.0,298.4 920.4,297.9 921.9,297.4 923.3,296.9 924.7,296.4 926.1,295.9 927.5,295.3 928.9,294.8 930.3,294.3 931.7,293.8 933.1,293.3 934.6,292.8 936.0,292.3 937.4,291.8 938.8,291.3 940.2,290.8 941.6,290.2 943.0,289.7 944.4,289.2 945.8,288.7 947.2,288.2 948.6,287.6 950.0,287.1 951.4,286.6 952.9,286.1 954.3,285.5 955.7,285.0 957.1,284.4 958.4,283.9 959.8,283.4 961.2,282.8 962.6,282.2 964.0,281.7 965.4,281.1 966.8,280.5 968.2,280.0 969.6,279.4 970.9,278.8 972.3,278.2 973.7,277.6 975.1,277.0 976.4,276.4 977.8,275.8 979.2,275.2 980.5,274.5 981.9,273.9 983.3,273.3 984.6,272.6 986.0,272.0 987.3,271.3 988.7,270.6 990.0,270.0 991.3,269.3 992.7,268.6 994.0,267.9 995.3,267.2 996.6,266.5 997.9,265.8 999.3,265.0 1000.6,264.3 1001.9,263.6 1003.2,262.8 1004.5,262.0 1005.7,261.3 1007.0,260.5 1008.3,259.7 1009.6,258.9 1010.8,258.1 1012.1,257.3 1013.3,256.5 1014.6,255.6 1015.8,254.8 1017.1,253.9 1018.3,253.1 1019.5,252.2 1020.7,251.3 1021.9,250.4 1023.1,249.5 1024.3,248.6 1025.5,247.7 1026.7,246.8 1027.9,245.8 1029.0,244.9 1030.2,243.9 1031.3,243.0 1032.4,242.0 1033.6,241.0 1034.7,240.0 1035.8,239.0 1036.9,237.9 1037.9,236.9 1039.0,235.8 1040.1,234.8 1041.1,233.7 1042.2,232.6 1043.2,231.5 1044.2,230.4 1045.2,229.3 1046.2,228.2 1047.2,227.1 1048.2,226.0 1049.1,224.8 1050.1,223.7 1051.0,222.5 1052.0,221.3 1052.9,220.1 1053.8,218.9 1054.7,217.8 1055.6,216.5 1056.5,215.3 1057.4,214.1 1058.2,212.9 1059.1,211.7 1059.9,210.4 1060.8,209.2 1061.6,207.9 1062.4,206.6 1063.2,205.4 1064.0,204.1 1064.8,202.8 1065.5,201.5 1066.3,200.3 1067.0,199.0 1067.8,197.7 1068.5,196.3 1069.2,195.0 1070.0,193.7 1070.7,192.4 1071.4,191.1 1072.0,189.7 1072.7,188.4 1073.4,187.0 1074.0,185.7 1074.7,184.3 1075.3,183.0 1076.0,181.6 1076.6,180.3 1077.2,178.9 1077.8,177.5 1078.4,176.2 1079.0,174.8 1079.6,173.4 1080.2,172.0 1080.7,170.6 1081.3,169.2 1081.8,167.8 1082.4,166.4 1082.9,165.0 1083.4,163.6 1084.0,162.2 1084.5,160.8 1085.0,159.4 1085.5,158.0 1086.0,156.6 1086.5,155.2 1086.9,153.7 1087.4,152.3 1087.9,150.9 1088.3,149.5 1088.8,148.0 1089.2,146.6 1089.7,145.2 1090.1,143.7 1090.5,142.3 1090.9,140.8 1091.3,139.4 1091.7,138.0 1092.1,136.5 1092.5,135.1 1092.9,133.6 1093.3,132.2 1093.7,130.7 1094.1,129.3 1094.4,127.8 1094.8,126.3 1095.1,124.9 1095.5,123.4 1095.8,122.0 1096.2,120.5 1096.5,119.0 1096.8,117.6 1097.2,116.1 1097.5,114.7 1097.8,113.2 1098.1,111.7 1098.4,110.3 1098.7,108.8 1099.0,107.3 1099.3,105.8 1099.6,104.4 1099.9,102.9 1100.2,101.4 1100.5,100.0 1100.7,98.5 1101.0,97.0 1101.3,95.5 1101.6,94.1 1101.9,92.6 1102.1,91.1 1102.4,89.6 1102.7,88.2 1102.9,86.7 1103.2,85.2 1103.5,83.7 1103.8,82.3 1104.0,80.8 1104.3,79.3 1104.6,77.8 1104.9,76.4 1105.1,74.9 1105.4,73.4 1105.7,71.9 1106.0,70.5 1106.3,69.0 1106.5,67.5 1106.8,66.1 1107.1,64.6 1107.4,63.1 1107.7,61.6 1108.0,60.2 1108.3,58.7 1108.6,57.2 1108.9,55.8 1109.3,54.3 1109.6,52.8 1109.9,51.4 1110.2,49.9 1110.6,48.4 1110.9,47.0 1111.3,45.5 1111.6,44.1 1111.9,42.6 1112.3,41.1 1112.6,39.7 1112.9,38.2 1113.3,36.8 1113.6,35.3 1114.0,33.8 1114.3,32.4 1114.7,30.9 1115.0,29.5 1115.4,28.0 1115.8,26.6 1116.3,25.1 1116.8,23.7 1117.3,22.3 1118.1,21.1 1119.0,19.9 1120.1,19.0 1121.4,18.4 1122.9,18.1 1124.4,18.0 1125.8,17.9 1127.3,17.8 1128.8,17.8 1130.3,17.8 1131.8,17.8 1133.3,17.9 1134.8,18.0 1136.3,18.3 1137.8,18.5 1139.3,18.7 1140.8,18.8 1142.3,18.7 1143.8,18.6 1145.3,18.5 1146.7,18.4 1147.2,18.4" fill="none" stroke="#c000c8" stroke-width="1.6" stroke-linejoin="round" stroke-linecap="round"/>
</svg>
</body></html>
